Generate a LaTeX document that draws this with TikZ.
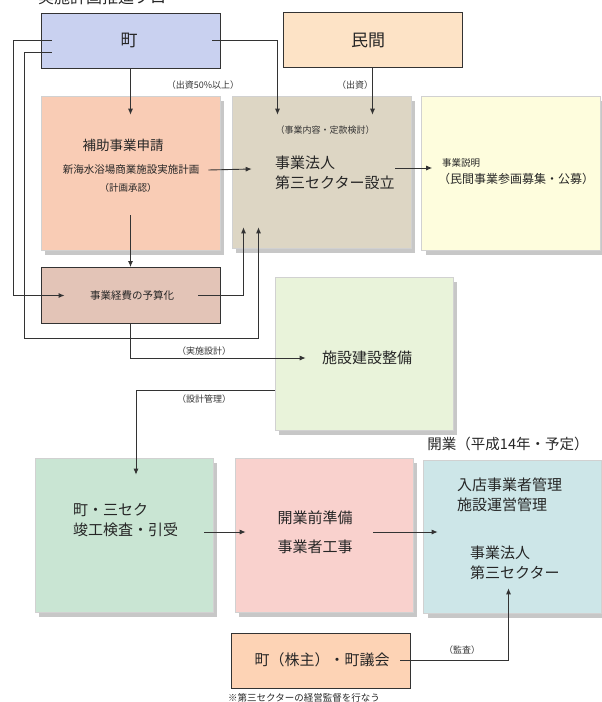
\documentclass[tikz,border=0pt]{standalone}
\usepackage{fontspec}
\setmainfont{Noto Sans CJK JP}
\usetikzlibrary{arrows.meta,shadows}

\definecolor{machiblue}{HTML}{C9D1F0}
\definecolor{minkanpeach}{HTML}{FDE3C6}
\definecolor{hojosalmon}{HTML}{F9CCB5}
\definecolor{hojintan}{HTML}{DDD6C4}
\definecolor{setsuyellow}{HTML}{FEFDDD}
\definecolor{yosanrose}{HTML}{E3C4B7}
\definecolor{shisetsugreen}{HTML}{E9F3DA}
\definecolor{kenkoumint}{HTML}{C9E5D3}
\definecolor{junbipink}{HTML}{F9D1CD}
\definecolor{nyutenblue}{HTML}{CDE6E8}
\definecolor{kabupeach}{HTML}{FDD3B5}
\definecolor{lineg}{HTML}{333333}

\begin{document}
\begin{tikzpicture}[x=1pt,y=-1pt,
    smallbox/.style={draw=lineg,line width=0.9pt,minimum width=179pt,minimum height=55pt,inner sep=0pt},
    bigbox/.style={draw=black!18,line width=0.6pt,minimum width=179pt,minimum height=154pt,inner sep=0pt,
        drop shadow={shadow xshift=4pt,shadow yshift=-5pt,fill=black!22,opacity=1}},
    txt/.style={inner sep=0pt,text=black!85},
    lbl/.style={inner sep=0pt,font=\fontsize{9}{11}\selectfont,text=black!80},
    arr/.style={draw=lineg,line width=0.9pt,-{Latex[length=6pt,width=5pt]}}]

    \useasboundingbox (0,0) rectangle (602,702);

    % Title, cut at the top
    \node[txt,anchor=base west,font=\fontsize{16}{18}\selectfont] (title) at (38,3.5) {実施計画推進フロー};

    % Place the upper boxes
    \node[smallbox,fill=machiblue] (machi) at (130.5,40.5) {};
    \node[smallbox,fill=minkanpeach] (minkan) at (372.5,39.5) {};
    \node[bigbox,fill=hojosalmon] (hojo) at (130.5,173) {};
    \node[bigbox,fill=hojintan,minimum height=152pt] (hojin) at (321.5,172) {};
    \node[bigbox,fill=setsuyellow] (setsumei) at (511,173) {};
    \node[smallbox,fill=yosanrose,minimum height=56pt] (yosan) at (130.5,295.5) {};
    \node[bigbox,fill=shisetsugreen,minimum width=178pt,minimum height=153pt] (shisetsu) at (364,353.5) {};

    % Place the lower boxes
    \node[bigbox,fill=kenkoumint,minimum width=178pt] (kenkou) at (124,535) {};
    \node[bigbox,fill=junbipink,minimum width=178pt] (junbi) at (324,535) {};
    \node[bigbox,fill=nyutenblue,minimum width=178pt,minimum height=153pt] (nyuten) at (512.5,536.5) {};
    \node[smallbox,fill=kabupeach] (kabunushi) at (320.5,660.5) {};

    % Texts in the boxes
    \node[txt,font=\fontsize{17}{20}\selectfont] (machitxt) at (129,40) {町};
    \node[txt,font=\fontsize{17}{20}\selectfont] (minkantxt) at (368,40) {民間};
    \node[txt,font=\fontsize{13.5}{16}\selectfont] (hojotxt) at (123,145) {補助事業申請};
    \node[txt,font=\fontsize{10.5}{12}\selectfont] (keikaku) at (131,170) {新海水浴場商業施設実施計画};
    \node[txt,font=\fontsize{9.5}{11}\selectfont] (shonin) at (128,188) {（計画承認）};
    \node[txt,anchor=west,align=left,font=\fontsize{15}{20}\selectfont] (hojintxt) at (275,173) {事業法人\\第三セクター設立};
    \node[txt,anchor=west,font=\fontsize{9.5}{11}\selectfont] (setsutxt) at (442,163) {事業説明};
    \node[txt,anchor=west,font=\fontsize{12}{14}\selectfont] (boshu) at (438,179) {（民間事業参画募集・公募）};
    \node[txt,font=\fontsize{10.5}{12}\selectfont] (yosantxt) at (132,295) {事業経費の予算化};
    \node[txt,font=\fontsize{15}{17}\selectfont] (shisetsutxt) at (367,358) {施設建設整備};
    \node[txt,anchor=west,align=left,font=\fontsize{15}{20}\selectfont] (kenkoutxt) at (73,520) {町・三セク\\竣工検査・引受};
    \node[txt,font=\fontsize{15}{17}\selectfont] (junbitxt) at (315,518) {開業前準備};
    \node[txt,font=\fontsize{15}{17}\selectfont] (kojitxt) at (315,547) {事業者工事};
    \node[txt,anchor=west,align=left,font=\fontsize{15}{20}\selectfont] (kanritxt) at (457,495) {入店事業者管理\\施設運営管理};
    \node[txt,anchor=west,align=left,font=\fontsize{15}{20}\selectfont] (sanseku) at (470,563) {事業法人\\第三セクター};
    \node[txt,font=\fontsize{15}{17}\selectfont] (kabutxt) at (322,660) {町（株主）・町議会};

    % Labels
    \node[lbl] (shusshi50) at (203,85) {（出資50\%以上）};
    \node[lbl] (shusshi) at (355,85) {（出資）};
    \node[lbl] (teikan) at (325,130) {（事業内容・定款検討）};
    \node[lbl] (jisshi) at (204,351) {（実施設計）};
    \node[lbl] (sekkei) at (204,399) {（設計管理）};
    \node[lbl] (kansa) at (462,650) {（監査）};
    \node[txt,font=\fontsize{14.5}{17}\selectfont] (kaigyo) at (508,444) {開業（平成14年・予定）};
    \node[txt,anchor=west,font=\fontsize{9.5}{11}\selectfont] (chui) at (228,698) {※第三セクターの経営監督を行なう};

    % Draw the connectors
    \coordinate (hojinin) at ([yshift=-19pt]hojin.north);
    \draw[arr] (machi.south) -- ([yshift=-19pt]hojo.north);
    \draw[arr] ([xshift=-8pt]machi.east) -| ([xshift=-44pt]hojinin);
    \draw[arr] (minkan.south) -- (minkan.south |- hojinin);
    \draw[arr] ([xshift=11pt]machi.west) -- ++(-38,0) |- ([xshift=24pt]yosan.west);
    \draw[arr] ([xshift=11pt,yshift=-12pt]machi.west) -- ++(-27,0) -- ++(0,286) -| ([xshift=-63pt,yshift=21pt]hojin.south);
    \draw[arr] ([xshift=-22pt]yosan.east) -| ([xshift=-78pt,yshift=21pt]hojin.south);
    \draw[arr] ([xshift=-12pt,yshift=3pt]hojo.east) -- ([xshift=20pt,yshift=3pt]hojin.west);
    \draw[arr] ([yshift=35pt]hojo.south) -- (yosan.north);
    \draw[arr] ([xshift=-16pt,yshift=4pt]hojin.east) -- ([xshift=11pt,yshift=5pt]setsumei.west);
    \draw[arr] (yosan.south) |- ([xshift=31pt,yshift=-4.5pt]shisetsu.west);
    \draw[arr] ([yshift=-37pt]shisetsu.west) -| ([xshift=12pt,yshift=-17pt]kenkou.north);
    \draw[arr] ([xshift=-9pt,yshift=3pt]kenkou.east) -- ([xshift=11pt,yshift=3pt]junbi.west);
    \draw[arr] ([xshift=-40pt,yshift=3pt]junbi.east) -- ([xshift=14.5pt,yshift=4.5pt]nyuten.west);
    \draw[arr] ([xshift=-10pt]kabunushi.east) -| ([xshift=-4pt,yshift=25pt]nyuten.south);

\end{tikzpicture}
\end{document}
